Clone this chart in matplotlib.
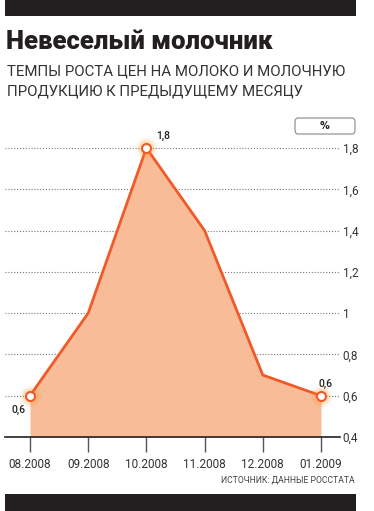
import matplotlib.pyplot as plt
from matplotlib.patches import FancyBboxPatch, Rectangle

months = ['08.2008', '09.2008', '10.2008', '11.2008', '12.2008', '01.2009']
growth = [0.6, 1.0, 1.8, 1.4, 0.7, 0.6]
yticks = [0.4, 0.6, 0.8, 1.0, 1.2, 1.4, 1.6, 1.8]
ytick_labels = ['0,4', '0,6', '0,8', '1', '1,2', '1,4', '1,6', '1,8']

W, H = 374, 511
LINE = '#f05a28'
FILL = '#f9bc98'

fig = plt.figure(figsize=(W / 100, H / 100), dpi=100)
fig.patch.set_facecolor('white')

def fx(px):
    return px / W

def fy(py):
    return 1 - py / H

# black bars top and bottom
fig.patches.append(Rectangle((fx(5), fy(16)), fx(351), 16 / H, transform=fig.transFigure,
                             facecolor='#231f20', edgecolor='none'))
fig.patches.append(Rectangle((fx(5), 0), fx(351), 17 / H, transform=fig.transFigure,
                             facecolor='#231f20', edgecolor='none'))

fig.text(fx(6), fy(42), 'Невеселый молочник', fontsize=18.5, fontweight='black',
         family='Roboto', color='#231f20', va='center', ha='left')
fig.text(fx(7), fy(71), 'ТЕМПЫ РОСТА ЦЕН НА МОЛОКО И МОЛОЧНУЮ', fontsize=10.8,
         family='Roboto', color='#333333', va='center')
fig.text(fx(7), fy(92), 'ПРОДУКЦИЮ К ПРЕДЫДУЩЕМУ МЕСЯЦУ', fontsize=10.8,
         family='Roboto', color='#333333', va='center')

# plot area: x=5..340 px, y 0.4 at 437 px, 1.8 at 148 px
ax = fig.add_axes([fx(5), fy(437), fx(335), (437 - 148) / H])
ax.set_facecolor('none')
x = list(range(len(months)))
ax.set_xlim(-25 / 58.2, 310 / 58.2)
ax.set_ylim(0.4, 1.8)

for v in yticks[1:]:
    ax.axhline(v, color='#777777', lw=0.8, ls=(0, (1, 1.6)), zorder=1)

ax.fill_between(x, 0.4, growth, color=FILL, lw=0, zorder=2)
ax.plot(x, growth, color=LINE, lw=2, zorder=3, solid_joinstyle='miter')

for i in (0, 2, 5):
    for s, a in ((260, 0.06), (180, 0.1), (120, 0.15)):
        ax.scatter(x[i], growth[i], s=s, color='#f7941d', alpha=a, lw=0, zorder=4, clip_on=False)
    ax.scatter(x[i], growth[i], s=42, facecolor='white', edgecolor=LINE, lw=1.5, zorder=5, clip_on=False)

lab = dict(fontsize=7.5, fontweight='medium', family='Roboto', color='#231f20')
ax.annotate('1,8', (x[2], growth[2]), xytext=(7, 5), textcoords='offset points', ha='left', va='bottom', **lab)
ax.annotate('0,6', (x[0], growth[0]), xytext=(-8, -7), textcoords='offset points', ha='center', va='top', **lab)
ax.annotate('0,6', (x[5], growth[5]), xytext=(3, 5), textcoords='offset points', ha='center', va='bottom', **lab)

for sp in ('top', 'left', 'right'):
    ax.spines[sp].set_visible(False)
ax.spines['bottom'].set_color('#231f20')
ax.spines['bottom'].set_linewidth(1.2)

ax.set_xticks(x)
ax.set_xticklabels(months, family='Roboto', fontsize=8.5, color='#333333')
ax.tick_params(axis='x', direction='out', length=11, width=1, color='#555555', pad=4)

ax.yaxis.tick_right()
ax.set_yticks(yticks)
ax.set_yticklabels(ytick_labels, family='Roboto', fontsize=8.5, color='#333333')
ax.tick_params(axis='y', length=0, pad=2)

# "%" box
fig.patches.append(FancyBboxPatch((fx(295), fy(134)), fx(60), 16 / H, transform=fig.transFigure,
                                  boxstyle='round,pad=0,rounding_size=0.008',
                                  facecolor='white', edgecolor='#888888', lw=0.8))
fig.text(fx(325), fy(126), '%', fontsize=7, fontweight='bold', ha='center', va='center', color='#231f20')

fig.text(fx(355), fy(480), 'ИСТОЧНИК: ДАННЫЕ РОССТАТА', fontsize=6.2, family='Roboto',
         ha='right', va='center', color='#444444')

fig.savefig('out.png', dpi=100)
